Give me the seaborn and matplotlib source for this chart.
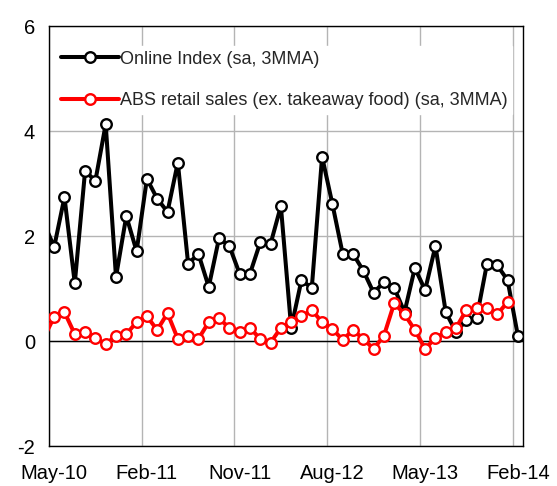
import numpy as np
import pandas as pd
import matplotlib.pyplot as plt
import seaborn as sns

# monthly, Apr-10 .. Feb-14 (Apr-10 only shows as the lead-in stub at the left edge)
months = pd.period_range('2010-04', '2014-02', freq='M')
online = [2.25,
          1.79, 2.74, 1.10, 3.24, 3.05, 4.13, 1.22, 2.38, 1.71,
          3.09, 2.71, 2.46, 3.40, 1.47, 1.66, 1.03, 1.96, 1.81,
          1.28, 1.28, 1.88, 1.85, 2.57, 0.25, 1.16, 1.01, 3.51,
          2.61, 1.66, 1.66, 1.34, 0.92, 1.12, 1.01, 0.55, 1.39,
          0.97, 1.81, 0.55, 0.17, 0.40, 0.44, 1.47, 1.44, 1.16,
          0.10]
abs_retail = [0.06,
              0.46, 0.55, 0.13, 0.17, 0.06, -0.06, 0.10, 0.13, 0.36,
              0.47, 0.21, 0.53, 0.04, 0.10, 0.04, 0.36, 0.43, 0.25,
              0.17, 0.25, 0.04, -0.03, 0.25, 0.36, 0.47, 0.59, 0.36,
              0.23, 0.02, 0.21, 0.04, -0.15, 0.10, 0.72, 0.51, 0.21,
              -0.15, 0.06, 0.17, 0.25, 0.59, 0.63, 0.63, 0.51, 0.74,
              np.nan]
x_labels = ['May-10', 'Feb-11', 'Nov-11', 'Aug-12', 'May-13', 'Feb-14']

lab_online = 'Online Index (sa, 3MMA)'
lab_abs = 'ABS retail sales (ex. takeaway food) (sa, 3MMA)'

# month number counted from May-10, points sit mid-month
mpos = np.arange(len(months)) - 1 + 0.5
df = pd.DataFrame({'x': mpos, lab_online: online, lab_abs: abs_retail})

sns.set_style('white')
plt.rcParams['font.family'] = ['Liberation Sans', 'DejaVu Sans']

fig, ax = plt.subplots(figsize=(5.57, 4.86), dpi=100)
fig.subplots_adjust(left=0.088, right=0.939, top=0.9465, bottom=0.0823)

for col, c in [(lab_online, 'black'), (lab_abs, 'red')]:
    d = df.dropna(subset=[col])
    sns.lineplot(data=d, x='x', y=col, ax=ax, color=c, lw=2.9, label=col,
                 marker='o', ms=7.6, mfc='white', mec=c, mew=1.7,
                 markevery=slice(1, None), sort=False, zorder=3)

ax.set_xlim(0, 46)
ax.set_ylim(-2, 6)
ax.set_yticks([-2, 0, 2, 4, 6])
ax.set_yticklabels(['-2', '0', '2', '4', '6'])

ax.set_xticks(np.arange(0, 46, 9))
ax.set_xticklabels([])
ax.set_xticks(np.arange(0, 46, 9) + 0.5, minor=True)
ax.set_xticklabels(x_labels, minor=True)
ax.tick_params(axis='both', which='both', length=0, labelsize=14.5, colors='black')
ax.tick_params(axis='y', pad=10)
ax.tick_params(axis='x', which='minor', pad=13)

ax.grid(True, which='major', color='#b4b4b4', lw=1)
ax.axhline(0, color='black', lw=1, zorder=2)
for s in ax.spines.values():
    s.set_color('black')
    s.set_linewidth(1)
ax.set_xlabel('')
ax.set_ylabel('')

leg = ax.legend(loc='upper left', bbox_to_anchor=(0.016, 0.952), frameon=True,
                framealpha=1, facecolor='white', edgecolor='white', fancybox=False,
                handlelength=3.2, handletextpad=0.05, labelspacing=1.35,
                borderaxespad=0, borderpad=0.25, fontsize=13)
leg.set_zorder(2.5)

fig.savefig('out.png', dpi=100)
